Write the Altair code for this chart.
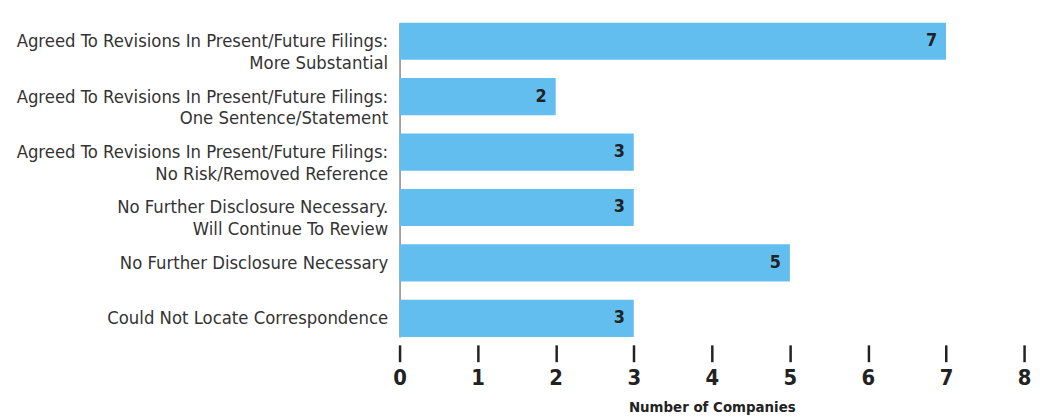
import altair as alt
import pandas as pd

categories = [
    "Agreed To Revisions In Present/Future Filings:|More Substantial",
    "Agreed To Revisions In Present/Future Filings:|One Sentence/Statement",
    "Agreed To Revisions In Present/Future Filings:|No Risk/Removed Reference",
    "No Further Disclosure Necessary.|Will Continue To Review",
    "No Further Disclosure Necessary",
    "Could Not Locate Correspondence",
]
values = [7, 2, 3, 3, 5, 3]
x_ticks = [0, 1, 2, 3, 4, 5, 6, 7, 8]

FONT = "DejaVu Sans Condensed, Liberation Sans Narrow, sans-serif"

df = pd.DataFrame({"category": categories, "value": values})

y_enc = alt.Y(
    "category:N",
    sort=categories,
    title=None,
    scale=alt.Scale(range=[13, 330], paddingInner=0.33, paddingOuter=0),
    axis=alt.Axis(
        labelExpr="split(datum.label, '|')",
        labelFont=FONT,
        labelFontSize=18.5,
        labelColor="#333333",
        labelLineHeight=22,
        labelLimit=420,
        labelPadding=12,
        ticks=False,
        domainColor="#888888",
        domainWidth=1.5,
    ),
)

x_enc = alt.X(
    "value:Q",
    scale=alt.Scale(domain=[0, 8], nice=False),
    axis=alt.Axis(
        values=x_ticks,
        format="d",
        grid=False,
        domain=False,
        tickSize=17,
        tickWidth=2.5,
        tickColor="#222222",
        offset=8,
        labelFlush=False,
        labelFont=FONT,
        labelFontSize=22,
        labelFontWeight="bold",
        labelColor="#222222",
        labelPadding=6,
        title="Number of Companies",
        titleFont=FONT,
        titleFontSize=15,
        titleFontWeight="bold",
        titleColor="#222222",
        titlePadding=11,
    ),
)

bars = alt.Chart(df).mark_bar(color="#63BEF0").encode(x=x_enc, y=y_enc)

labels = alt.Chart(df).mark_text(
    align="right", baseline="middle", dx=-9, font=FONT, fontSize=18,
    fontWeight="bold", color="#222222"
).encode(x="value:Q", y=alt.Y("category:N", sort=categories), text="value:Q")

chart = (
    alt.layer(bars, labels)
    .properties(
        width=630,
        height=330,
        autosize=alt.AutoSizeParams(type="none"),
        padding={"left": 395, "top": 0, "right": 8, "bottom": 82},
    )
    .configure_view(stroke=None)
)

chart.save("out.html", embed_options={"renderer": "svg", "actions": False})
